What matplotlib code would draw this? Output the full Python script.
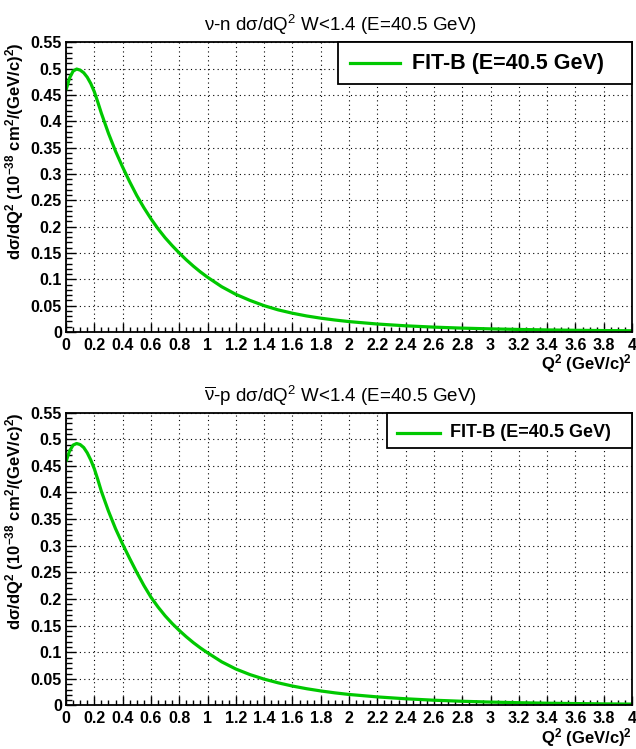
import matplotlib
matplotlib.use("Agg")
import matplotlib.pyplot as plt
from matplotlib.ticker import MultipleLocator, FormatStrFormatter
from matplotlib.patches import Rectangle

plt.rcParams['font.family'] = ['Liberation Sans', 'DejaVu Sans']
plt.rcParams['mathtext.fontset'] = 'custom'
plt.rcParams['mathtext.rm'] = 'Liberation Sans'
plt.rcParams['mathtext.it'] = 'Liberation Sans'
plt.rcParams['mathtext.bf'] = 'Liberation Sans:bold'

q2 = [0.00, 0.025, 0.05, 0.075, 0.10, 0.125, 0.15, 0.175, 0.20, 0.225, 0.25,
      0.30, 0.35, 0.40, 0.45, 0.50, 0.55, 0.60, 0.65, 0.70, 0.75, 0.80,
      0.85, 0.90, 0.95, 1.00,
      1.1, 1.2, 1.3, 1.4, 1.5, 1.6, 1.7, 1.8, 1.9, 2.0,
      2.2, 2.4, 2.6, 2.8, 3.0, 3.2, 3.4, 3.6, 3.8, 4.0]

# nu-n, dsigma/dQ2 in 1e-38 cm^2/(GeV/c)^2
nu_n = [0.459, 0.482, 0.495, 0.499, 0.497, 0.492, 0.4835, 0.4715, 0.456, 0.436, 0.415,
        0.377, 0.343, 0.313, 0.285, 0.259, 0.236, 0.215, 0.196, 0.179, 0.164, 0.150,
        0.137, 0.125, 0.114, 0.104,
        0.086, 0.0715, 0.060, 0.050, 0.042, 0.0357, 0.0305, 0.0263, 0.0228, 0.0198,
        0.0152, 0.0118, 0.0093, 0.0074, 0.0060, 0.0049, 0.0040, 0.0033, 0.0028, 0.0024]

# nubar-p
nubar_p = [0.458, 0.478, 0.489, 0.492, 0.490, 0.4845, 0.4745, 0.461, 0.4445, 0.424, 0.402,
           0.365, 0.332, 0.303, 0.276, 0.250, 0.2255, 0.2035, 0.185, 0.1685, 0.154, 0.141,
           0.129, 0.118, 0.108, 0.099,
           0.082, 0.0685, 0.058, 0.0495, 0.0425, 0.0365, 0.0315, 0.0273, 0.0237, 0.0207,
           0.0161, 0.0126, 0.0099, 0.0079, 0.0064, 0.0052, 0.0043, 0.0036, 0.0030, 0.0026]

titles = [r'$\nu$-n d$\sigma$/dQ$^2$ W<1.4 (E=40.5 GeV)',
          r'$\overline{\nu}$-p d$\sigma$/dQ$^2$ W<1.4 (E=40.5 GeV)']
leg_label = 'FIT-B (E=40.5 GeV)'
green = '#00c800'

fig = plt.figure(figsize=(6.36, 7.49), dpi=100)
ax1 = fig.add_axes([0.1038, 0.5567, 0.890, 0.387])
ax2 = fig.add_axes([0.1038, 0.0581, 0.890, 0.391])

# legend box geometry per panel: box x0, box y0, line x0, x1, line y, text x, fontsize
legs = [(0.4806, 0.855, 0.502, 0.590, 0.928, 0.611, 15.5),
        (0.567, 0.879, 0.585, 0.661, 0.931, 0.678, 13)]

for ax, y, title, lg in zip([ax1, ax2], [nu_n, nubar_p], titles, legs):
    ax.plot(q2, y, color=green, lw=2.3, solid_capstyle='butt')
    ax.set_xlim(0, 4)
    ax.set_ylim(0, 0.55)
    ax.xaxis.set_major_locator(MultipleLocator(0.2))
    ax.xaxis.set_minor_locator(MultipleLocator(0.05))
    ax.yaxis.set_major_locator(MultipleLocator(0.05))
    ax.yaxis.set_minor_locator(MultipleLocator(0.01))
    ax.xaxis.set_major_formatter(FormatStrFormatter('%g'))
    ax.yaxis.set_major_formatter(FormatStrFormatter('%g'))
    ax.grid(True, which='major', color='black', linestyle=(0, (1, 3)), lw=0.8)
    ax.tick_params(axis='x', which='major', direction='in', length=6.5, width=1, labelsize=11.5, pad=4)
    ax.tick_params(axis='x', which='minor', direction='in', length=3.5, width=1)
    ax.tick_params(axis='y', which='major', direction='in', length=7.5, width=1, labelsize=11.5, pad=3)
    ax.tick_params(axis='y', which='minor', direction='in', length=4.5, width=1)
    for lab in ax.get_xticklabels() + ax.get_yticklabels():
        lab.set_fontweight('bold')
    for sp in ax.spines.values():
        sp.set_linewidth(1.3)
    ax.set_xlabel(r'$\mathbf{Q^2}$ (GeV/c)$^\mathbf{2}$', loc='right', fontsize=12, fontweight='bold')
    ax.xaxis.set_label_coords(1.0, -0.07)
    ax.set_ylabel(r'd$\mathbf{\sigma}$/dQ$^\mathbf{2}$ (10$^\mathbf{-38}$ cm$^\mathbf{2}$/(GeV/c)$^\mathbf{2}$)',
                  loc='top', fontsize=12, fontweight='bold')
    ax.yaxis.set_label_coords(-0.07, 1.0)
    ax.set_title(title, fontsize=13.5, pad=8, x=0.485)

    bx, by, lx0, lx1, ly, tx, fs = lg
    ax.add_patch(Rectangle((bx, by), 1 - bx, 1 - by, transform=ax.transAxes,
                           facecolor='white', edgecolor='black', lw=1.3, zorder=5, clip_on=False))
    ax.plot([lx0, lx1], [ly, ly], transform=ax.transAxes, color=green, lw=2.3, zorder=6, clip_on=False)
    ax.text(tx, ly, leg_label, transform=ax.transAxes, fontsize=fs, fontweight='bold',
            va='center', ha='left', zorder=6)

fig.savefig('out.png', dpi=100)
